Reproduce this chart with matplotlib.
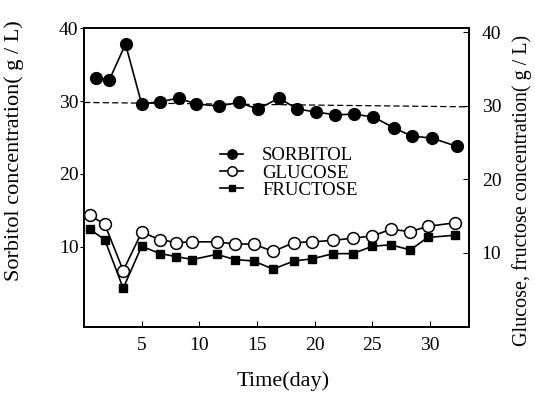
import matplotlib
matplotlib.use("Agg")
import matplotlib.pyplot as plt

# ===============================
# Datos
# ===============================
dias_sorbitol = [1.0, 2.2, 3.6, 5.0, 6.6, 8.2, 9.7, 11.7, 13.4, 15.1,
                 16.9, 18.5, 20.1, 21.8, 23.4, 25.1, 26.9, 28.4, 30.2, 32.3]
sorbitol = [33.1, 32.9, 37.8, 29.6, 29.9, 30.4, 29.6, 29.3, 29.8, 28.9,
            30.4, 28.9, 28.5, 28.1, 28.2, 27.8, 26.3, 25.2, 24.9, 23.8]

dias_azucar = [0.5, 1.8, 3.4, 5.0, 6.6, 8.0, 9.4, 11.5, 13.1, 14.7,
               16.4, 18.2, 19.8, 21.6, 23.3, 25.0, 26.6, 28.3, 29.8, 32.2]
glucosa = [15.1, 13.9, 7.6, 12.8, 11.8, 11.4, 11.5, 11.5, 11.2, 11.2,
           10.2, 11.4, 11.5, 11.7, 12.0, 12.3, 13.2, 12.9, 13.6, 14.1]
fructosa = [13.2, 11.8, 5.2, 10.9, 9.9, 9.5, 9.1, 9.8, 9.1, 8.9,
            7.8, 8.9, 9.2, 9.9, 9.9, 10.9, 11.1, 10.4, 12.1, 12.4]

linea_ref_x = [0, 33.4]
linea_ref_y = [29.8, 29.2]

ticks_x = [5, 10, 15, 20, 25, 30]
ticks_y = [10, 20, 30, 40]

plt.rcParams["font.family"] = ["Liberation Serif", "DejaVu Serif"]

# ===============================
# Figura
# ===============================
fig = plt.figure(figsize=(5.35, 4.01), dpi=100)
ax = fig.add_axes([0.157, 0.185, 0.72, 0.745])
ax2 = ax.twinx()

ax.plot(linea_ref_x, linea_ref_y, "k--", lw=0.9, dashes=(5, 2.5))
l1, = ax.plot(dias_sorbitol, sorbitol, "-o", color="black", lw=1.2,
              ms=8.5, mfc="black", mec="black", label="SORBITOL")
l2, = ax2.plot(dias_azucar, glucosa, "-o", color="black", lw=1.2,
               ms=8.5, mfc="white", mec="black", mew=1.1, label="GLUCOSE")
l3, = ax2.plot(dias_azucar, fructosa, "-s", color="black", lw=1.2,
               ms=6, mfc="black", mec="black", label="FRUCTOSE")

ax.set_xlim(0, 33.4)
ax.set_ylim(-0.96, 40)
ax2.set_ylim(-0.04, 40.54)

ax.set_xticks(ticks_x)
ax.set_yticks(ticks_y)
ax2.set_yticks(ticks_y)

ax.tick_params(axis="x", direction="in", length=4.5, labelsize=14, pad=7)
ax.tick_params(axis="y", direction="out", length=3, labelsize=14, pad=1)
ax2.tick_params(axis="y", direction="in", length=4, labelsize=14, pad=9)

for a in (ax, ax2):
    for s in a.spines.values():
        s.set_linewidth(1.3)

ax.set_xlabel("Time(day)", fontsize=16)
ax.xaxis.set_label_coords(0.517, -0.15)
ax.set_ylabel("Sorbitol concentration( g / L)", fontsize=16)
ax.yaxis.set_label_coords(-0.155, 0.59)
ax2.set_ylabel("Glucose, fructose concentration( g / L)", fontsize=14.5,
               rotation=90)
ax2.yaxis.set_label_coords(1.112, 0.455)

ax.legend(handles=[l1, l2, l3], loc="center left",
          bbox_to_anchor=(0.353, 0.515), frameon=False, fontsize=13.5,
          handlelength=1.25, handletextpad=1.0, labelspacing=0.0,
          borderpad=0, borderaxespad=0, markerscale=0.8)

fig.savefig("out.png", dpi=100)
